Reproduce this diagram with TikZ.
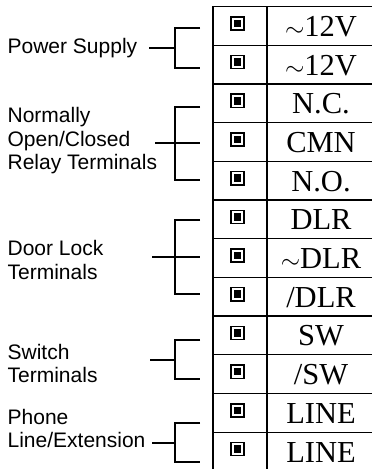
\documentclass[tikz,border=0pt]{standalone}
\usepackage{fontspec}
\setmainfont{Liberation Serif}
\newfontfamily\labelfont{Liberation Sans}
\begin{document}
\begin{tikzpicture}[x=1pt,y=-1pt,line width=1.3pt,
  lbl/.style={anchor=west,align=left,inner sep=0pt,font=\labelfont\fontsize{21}{23.5}\selectfont},
  val/.style={anchor=base,inner sep=0pt,font=\fontsize{30.5}{36}\selectfont},
  term/.style={draw,line width=1.5pt,minimum size=13.2pt,inner sep=0pt,
    path picture={\fill (path picture bounding box.center) +(-3.8,-3.8) rectangle +(3.8,3.8);}},
  brk/.style={line width=1.3pt}]
\useasboundingbox (0,0) rectangle (372,469);
% table
\foreach \k/\txt in {1/{$\sim$12V},2/{$\sim$12V},3/{N.C.},4/{CMN},5/{N.O.},6/{DLR},7/{$\sim$DLR},8/{/DLR},9/{SW},10/{/SW},11/{LINE},12/{LINE}}{
  \pgfmathsetmacro\yc{6.5+(\k-0.5)*38.7}
  \draw (213,{6.5+(\k-1)*38.7}) rectangle (375,{6.5+\k*38.7});
  \node[term] (t\k) at (237.5,{\yc-2.5}) {};
  \node[val] (v\k) at (321,{\yc+10.5}) {\txt};
}
\draw (267,6.5) -- (267,470.9);
% labels
\node[lbl] (L1) at (7,48) {Power Supply};
\node[lbl] (L2) at (7,141) {Normally\\Open/Closed\\Relay Terminals};
\node[lbl] (L3) at (7,260) {Door Lock\\Terminals};
\node[lbl] (L4) at (7,363.5) {Switch\\Terminals};
\node[lbl] (L5) at (7,428.5) {Phone\\Line/Extension};
% brackets
\coordinate (g1t) at (200,28);  \coordinate (g1b) at (200,68);  \coordinate (g1s) at (149,48);
\coordinate (g2t) at (200,107); \coordinate (g2b) at (200,180); \coordinate (g2s) at (155,143);
\coordinate (g3t) at (200,220); \coordinate (g3b) at (200,294); \coordinate (g3s) at (152,257);
\coordinate (g4t) at (200,340); \coordinate (g4b) at (200,379); \coordinate (g4s) at (150,360);
\coordinate (g5t) at (200,423); \coordinate (g5b) at (200,462); \coordinate (g5s) at (152,443);
\draw[brk] (g1t) -- ++(-25,0) |- (g1b); \draw[brk] (g1s) -- (g1s -| 175,0);
\draw[brk] (g2t) -- ++(-25,0) |- (g2b); \draw[brk] (g2s) -- (g2s -| 200,0);
\draw[brk] (g3t) -- ++(-25,0) |- (g3b); \draw[brk] (g3s) -- (g3s -| 200,0);
\draw[brk] (g4t) -- ++(-25,0) |- (g4b); \draw[brk] (g4s) -- (g4s -| 175,0);
\draw[brk] (g5t) -- ++(-25,0) |- (g5b); \draw[brk] (g5s) -- (g5s -| 175,0);
\end{tikzpicture}
\end{document}
